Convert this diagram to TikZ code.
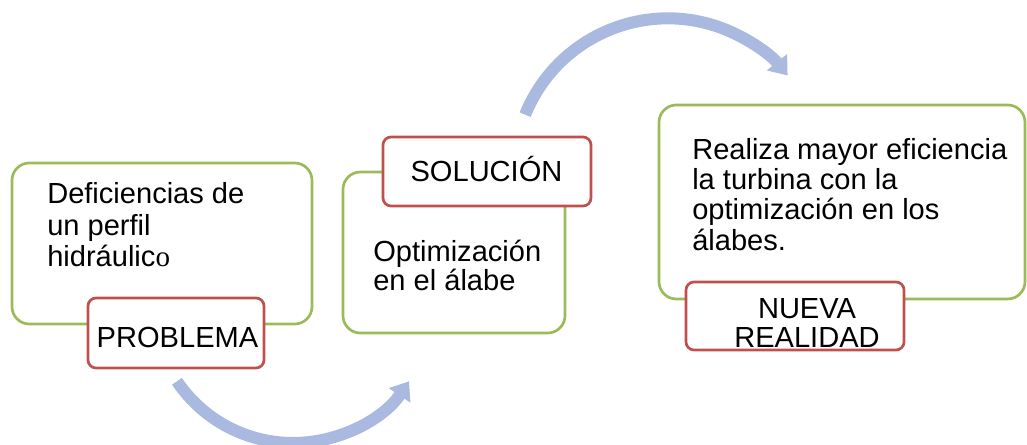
\documentclass[tikz,border=0pt]{standalone}
\usepackage{fontspec}
\setmainfont{Liberation Sans}
\newfontfamily\serifo{Liberation Serif}
\usetikzlibrary{arrows.meta}
\definecolor{gborder}{HTML}{9BBB59}
\definecolor{rborder}{HTML}{C0504D}
\definecolor{arrowblue}{HTML}{A9B9E0}
\begin{document}
\begin{tikzpicture}[x=0.75pt,y=-0.75pt,
  greenbox/.style={draw=gborder, line width=2pt, rounded corners=13pt, fill=white},
  redbox/.style={draw=rborder, line width=2pt, rounded corners=6pt, fill=white},
  txt/.style={font=\fontsize{21.8pt}{23.8pt}\selectfont, inner sep=0pt, align=left, anchor=base west},
  lbl/.style={font=\fontsize{21.8pt}{21.75pt}\selectfont, inner sep=0pt, align=center, anchor=base},
  flow/.style={draw=arrowblue, line width=9pt, -{Triangle[length=12.75pt,width=18.75pt]}}]
\useasboundingbox (0,0) rectangle (1027,445);
% arrows
\coordinate (c1) at (293,303);
\coordinate (c2) at (667,172);
\draw[flow] ([shift={(146:140)}]c1) arc[start angle=146, end angle=34, radius=140];
\draw[flow] ([shift={(202:153)}]c2) arc[start angle=202, end angle=321, radius=154];
% green boxes
\node[greenbox, minimum width=225pt, minimum height=120.75pt] (b1) at (162,243.5) {};
\node[greenbox, minimum width=166.5pt, minimum height=120.75pt] (b2) at (454,252.5) {};
\node[greenbox, minimum width=274.5pt, minimum height=145.5pt] (b3) at (842,202) {};
% red boxes
\node[redbox, minimum width=132pt, minimum height=52.5pt] (r1) at (176,333) {};
\node[redbox, minimum width=156pt, minimum height=51.75pt] (r2) at (487,171.5) {};
\node[redbox, minimum width=163.5pt, minimum height=51pt] (r3) at (795,316) {};
% texts (anchor = baseline of last line)
\node[txt] (t1) at (47,267) {Deficiencias de\\un perfil\\hidráulic{\serifo o}};
\node[txt, font=\fontsize{21.8pt}{21.2pt}\selectfont] (t2) at (373,290) {Optimización\\en el álabe};
\node[txt, font=\fontsize{21.8pt}{22.5pt}\selectfont] (t3) at (692,250) {Realiza mayor eficiencia\\la turbina con la\\optimización en los\\álabes.};
\node[lbl] (l1) at (177.5,347) {PROBLEMA};
\node[lbl] (l2) at (486.5,182) {SOLUCIÓN};
\node[lbl] (l3) at (807,347) {NUEVA\\REALIDAD};
\end{tikzpicture}
\end{document}
